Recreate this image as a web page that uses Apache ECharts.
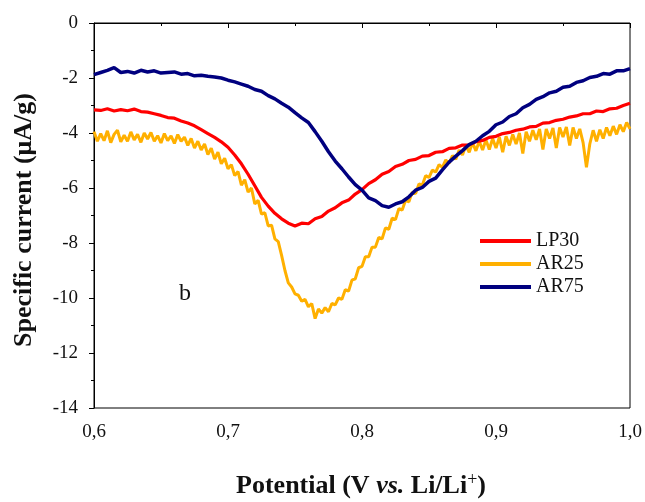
<!DOCTYPE html>
<html>
<head>
<meta charset="utf-8">
<script src="https://cdn.jsdelivr.net/npm/echarts@6/dist/echarts.min.js"></script>
<style>
html,body{margin:0;padding:0;background:#fff;}
#chart{width:645px;height:502px;}
</style>
</head>
<body>
<div id="chart"></div>
<script>
// Potential sampling grids (V vs. Li/Li+)
const lp30Start = 0.6, lp30Step = 0.005;
const ar75Start = 0.6, ar75Step = 0.005;
const ar25Start = 0.6, ar25Step = 0.0025;

// Specific current (µA/g)
const lp30 = [
  -3.16,-3.18,-3.12,-3.20,-3.15,-3.19,-3.13,-3.22,-3.24,-3.30,
  -3.36,-3.44,-3.46,-3.56,-3.64,-3.74,-3.88,-4.02,-4.16,-4.32,
  -4.52,-4.80,-5.12,-5.50,-5.92,-6.34,-6.66,-6.92,-7.12,-7.28,
  -7.38,-7.28,-7.30,-7.12,-7.04,-6.84,-6.72,-6.54,-6.44,-6.22,
  -6.06,-5.84,-5.70,-5.50,-5.40,-5.22,-5.14,-5.00,-4.96,-4.84,
  -4.82,-4.70,-4.68,-4.56,-4.54,-4.44,-4.43,-4.32,-4.27,-4.16,
  -4.12,-4.02,-3.98,-3.90,-3.86,-3.78,-3.76,-3.64,-3.62,-3.54,
  -3.50,-3.42,-3.38,-3.30,-3.30,-3.20,-3.22,-3.12,-3.10,-3.00,
  -2.92
];
const ar25 = [
  -3.95,-4.30,-4.02,-4.28,-3.92,-4.35,-4.05,-3.90,-4.32,-4.08,
  -4.30,-3.96,-4.25,-4.05,-4.34,-4.00,-4.22,-3.98,-4.30,-4.10,
  -4.36,-4.02,-4.28,-4.10,-4.38,-4.06,-4.30,-4.15,-4.45,-4.20,
  -4.55,-4.30,-4.62,-4.40,-4.78,-4.55,-4.95,-4.70,-5.12,-4.92,
  -5.30,-5.15,-5.55,-5.40,-5.90,-5.70,-6.15,-6.00,-6.58,-6.45,
  -6.95,-6.90,-7.38,-7.35,-7.85,-7.95,-8.45,-9.00,-9.45,-9.60,
  -9.85,-9.90,-10.12,-10.05,-10.32,-10.20,-10.75,-10.40,-10.55,-10.35,
  -10.50,-10.20,-10.25,-10.00,-10.05,-9.70,-9.75,-9.35,-9.30,-8.90,
  -8.85,-8.50,-8.50,-8.15,-8.15,-7.80,-7.85,-7.45,-7.50,-7.10,
  -7.15,-6.75,-6.80,-6.45,-6.50,-6.15,-6.20,-5.85,-5.90,-5.55,
  -5.62,-5.35,-5.42,-5.15,-5.25,-4.98,-5.10,-4.82,-4.95,-4.62,
  -4.80,-4.45,-4.70,-4.35,-4.65,-4.30,-4.62,-4.25,-4.60,-4.20,
  -4.55,-4.15,-4.70,-4.12,-4.45,-4.05,-4.40,-4.00,-4.75,-3.95,
  -4.30,-3.90,-4.25,-3.85,-4.60,-3.85,-4.20,-3.82,-4.55,-3.80,
  -4.15,-3.78,-4.45,-3.80,-4.20,-3.85,-4.35,-5.25,-4.40,-3.90,
  -4.30,-3.88,-4.20,-3.80,-4.10,-3.75,-4.05,-3.70,-3.95,-3.62,
  -3.85
];
const ar75 = [
  -1.88,-1.80,-1.72,-1.62,-1.80,-1.76,-1.82,-1.72,-1.78,-1.74,
  -1.82,-1.80,-1.78,-1.86,-1.84,-1.92,-1.90,-1.94,-1.96,-2.00,
  -2.08,-2.14,-2.22,-2.30,-2.42,-2.48,-2.64,-2.76,-2.92,-3.06,
  -3.26,-3.45,-3.62,-3.95,-4.30,-4.68,-5.02,-5.30,-5.60,-5.88,
  -6.08,-6.36,-6.46,-6.64,-6.70,-6.58,-6.50,-6.32,-6.08,-5.98,
  -5.76,-5.64,-5.34,-5.06,-4.84,-4.64,-4.42,-4.30,-4.10,-3.94,
  -3.70,-3.60,-3.40,-3.30,-3.08,-2.96,-2.78,-2.68,-2.54,-2.48,
  -2.34,-2.30,-2.16,-2.10,-1.98,-1.94,-1.84,-1.86,-1.74,-1.74,
  -1.66
];

const seriesNames = ['LP30', 'AR25', 'AR75'];
const xTicks = [0.6, 0.7, 0.8, 0.9, 1.0];
const yTicks = [0, -2, -4, -6, -8, -10, -12, -14];

function pairs(start, step, vals) {
  return vals.map((v, i) => [+(start + i * step).toFixed(5), v]);
}

const SERIF = '"Liberation Serif", "Times New Roman", serif';
const chart = echarts.init(document.getElementById('chart'));
chart.setOption({
  animation: false,
  backgroundColor: '#fff',
  grid: { left: 94, right: 15, top: 23, bottom: 94, show: true, borderColor: '#000', borderWidth: 1 },
  xAxis: {
    type: 'value', min: xTicks[0], max: xTicks[xTicks.length - 1], interval: 0.1,
    axisLine: { lineStyle: { color: '#000', width: 1 } },
    axisTick: { inside: false, length: 5, lineStyle: { color: '#000' } },
    minorTick: { show: true, splitNumber: 2, length: 3, lineStyle: { color: '#000' } },
    splitLine: { show: false },
    axisLabel: { margin: 15, color: '#111', fontFamily: SERIF, fontSize: 19,
      formatter: v => v.toFixed(1).replace('.', ',') }
  },
  yAxis: {
    type: 'value', min: yTicks[yTicks.length - 1], max: yTicks[0], interval: 2,
    axisLine: { show: true, lineStyle: { color: '#000', width: 1 } },
    axisTick: { show: true, inside: false, length: 5, lineStyle: { color: '#000' } },
    minorTick: { show: true, splitNumber: 2, length: 3, lineStyle: { color: '#000' } },
    splitLine: { show: false },
    axisLabel: { margin: 16, color: '#111', fontFamily: SERIF, fontSize: 19 }
  },
  legend: {
    data: seriesNames, orient: 'vertical', left: 475, top: 226,
    icon: 'rect', itemWidth: 51, itemHeight: 4, itemGap: 3,
    textStyle: { fontFamily: SERIF, fontSize: 20, color: '#111' }
  },
  series: [
    { name: 'AR25', type: 'line', data: pairs(ar25Start, ar25Step, ar25), symbol: 'none',
      lineStyle: { color: '#ffb000', width: 3 }, itemStyle: { color: '#ffb000' } },
    { name: 'LP30', type: 'line', data: pairs(lp30Start, lp30Step, lp30), symbol: 'none',
      lineStyle: { color: '#ff0000', width: 3.2 }, itemStyle: { color: '#ff0000' } },
    { name: 'AR75', type: 'line', data: pairs(ar75Start, ar75Step, ar75), symbol: 'none',
      lineStyle: { color: '#00007f', width: 3.5 }, itemStyle: { color: '#00007f' } }
  ],
  graphic: [
    { type: 'text', x: 185, y: 294, style: { text: 'b', font: '24px ' + SERIF, fill: '#111', textAlign: 'center', textVerticalAlign: 'middle' } },
    { type: 'text', x: 24, y: 220, rotation: Math.PI / 2,
      style: { text: 'Specific current (μA/g)', font: 'bold 26px ' + SERIF, fill: '#111', textAlign: 'center', textVerticalAlign: 'middle' } },
    { type: 'text', x: 361, y: 486,
      style: {
        text: '{a|Potential (V }{i|vs.}{a| Li/Li}{s|+}{a|)}',
        textAlign: 'center', textVerticalAlign: 'middle', fill: '#111',
        rich: {
          a: { font: 'bold 26px ' + SERIF, fill: '#111', lineHeight: 30 },
          i: { font: 'italic bold 26px ' + SERIF, fill: '#111', lineHeight: 30 },
          s: { font: '18px ' + SERIF, fill: '#111', lineHeight: 18, verticalAlign: 'top' }
        }
      } }
  ]
});
</script>
</body>
</html>
